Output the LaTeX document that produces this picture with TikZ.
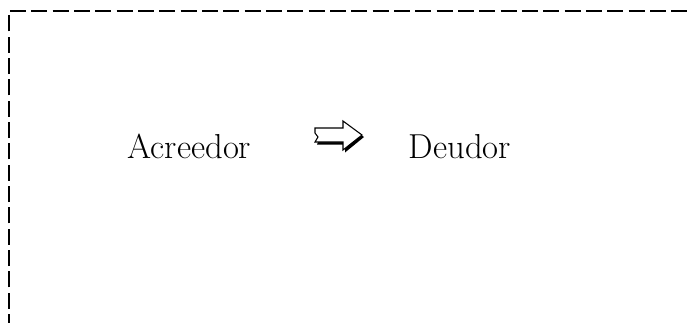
\documentclass[tikz,border=0pt]{standalone}
\begin{document}
\begin{tikzpicture}[x=0.75pt,y=-0.75pt,
  lbl/.style={anchor=base,inner sep=0pt,font=\fontsize{26}{31}\selectfont},
  boxline/.style={line width=1.3pt,dash pattern=on 12pt off 4pt}]
\useasboundingbox (0,0) rectangle (688,322);
\draw[boxline] (9,330) -- (9,11) -- (700,11);
\node[lbl] (a) at (189.5,158) {Acreedor};
\node[lbl] (d) at (460,158) {Deudor};
% arrow with shadow
\fill[black] (317,130) -- (345,130) -- (345,123) -- (364,137) -- (345,152.5) -- (345,144.5) -- (317,144.5) -- (319,139.5) -- cycle;
\filldraw[fill=white,draw=black,line width=0.8pt] (315,128) -- (343,128) -- (343,121) -- (362,135) -- (343,150) -- (343,142) -- (315,142) -- (318,137) -- (315,133) -- cycle;
\end{tikzpicture}
\end{document}
